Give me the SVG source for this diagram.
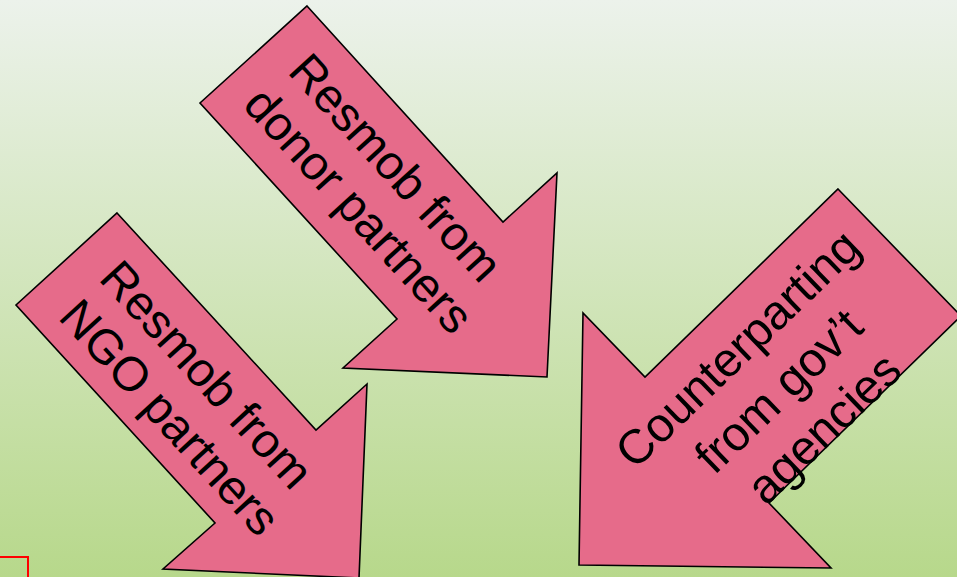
<svg xmlns="http://www.w3.org/2000/svg" width="957" height="577" viewBox="0 0 957 577">
  <defs>
    <linearGradient id="bg" x1="0" y1="0" x2="0" y2="1">
      <stop offset="0" stop-color="#ecf2eb"/>
      <stop offset="1" stop-color="#b7d88b"/>
    </linearGradient>
    <style>
      .arrow { fill: #e66b8a; stroke: #000; stroke-width: 1.6; stroke-linejoin: miter; }
      .label { font-family: "Liberation Sans", Arial, sans-serif; font-size: 48px; fill: #000; text-anchor: middle; }
    </style>
  </defs>

  <rect x="0" y="0" width="957" height="577" fill="url(#bg)"/>

  <!-- small red frame in the lower-left corner -->
  <rect x="-10" y="557" width="38" height="40" fill="none" stroke="#ff0000" stroke-width="2"/>

  <g id="arrow-donor">
    <polygon class="arrow" points="307,6 503,222 557,173 547,377 343,368 397,319 200,103"/>
    <text class="label" transform="translate(380,191) rotate(47.6)">
      <tspan x="0" y="-11">Resmob from</tspan>
      <tspan x="0" y="45">donor partners</tspan>
    </text>
  </g>

  <g id="arrow-ngo">
    <polygon class="arrow" points="117,213 316,430 367,384 359,578 163,569 215,523 16,305"/>
    <text class="label" transform="translate(191,398) rotate(47.6)">
      <tspan x="0" y="-11">Resmob from</tspan>
      <tspan x="0" y="45">NGO partners</tspan>
    </text>
  </g>

  <g id="arrow-govt">
    <polygon class="arrow" points="838,189 961,316 769,503 831,568 579,565 583,313 645,377"/>
    <text class="label" transform="translate(783,386) rotate(-44)">
      <tspan x="0" y="-42">Counterparting</tspan>
      <tspan x="0" y="17">from gov’t</tspan>
      <tspan x="0" y="75">agencies</tspan>
    </text>
  </g>
</svg>
